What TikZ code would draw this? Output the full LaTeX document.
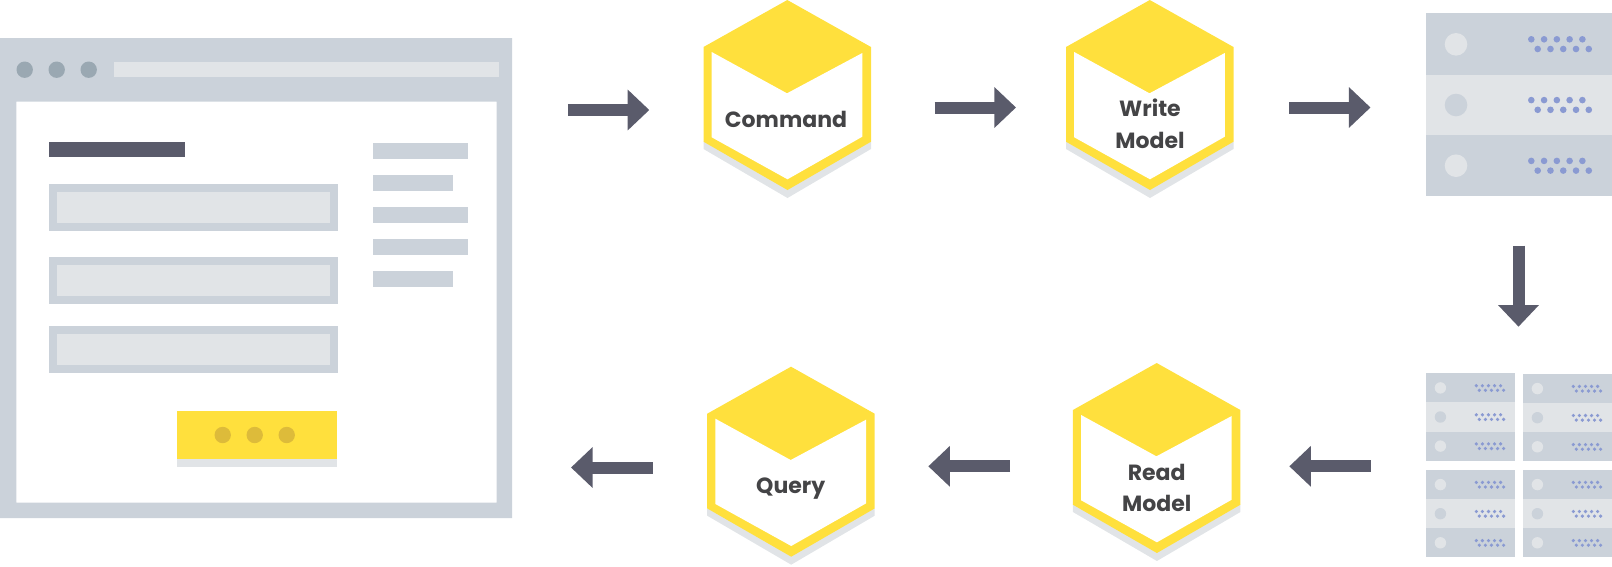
\documentclass[tikz,border=0pt]{standalone}
\usepackage{fontspec}
\setmainfont{Poppins}
\usetikzlibrary{arrows.meta}
\definecolor{slate}{HTML}{CBD2DA}
\definecolor{pale}{HTML}{E1E4E7}
\definecolor{ink}{HTML}{5A5B6B}
\definecolor{sun}{HTML}{FFE03D}
\definecolor{label}{HTML}{444446}
\definecolor{winDot}{HTML}{9AA8B2}
\definecolor{srvDot}{HTML}{8A9AD2}
\definecolor{btnDot}{HTML}{DDBB3A}
\tikzset{
  flow/.style={draw=ink,line width=12pt,-{Triangle[length=21.6pt,width=39.5pt]},line cap=butt},
  hexlabel/.style={font=\bfseries\fontsize{22}{31.6}\selectfont,text=label,align=center,inner sep=0pt,anchor=base},
}
% hexagon: dx dy
\newcommand{\hexa}[2]{%
  \begin{scope}[shift={(#1,#2)}]
    \fill[pale] (703.5,141.7) -- (703.5,149) -- (787.5,198) -- (871,149) -- (871,141.7) -- cycle;
    \fill[sun] (787.3,0) -- (871,47) -- (871,141.7) -- (787.5,190) -- (703.5,141.7) -- (703.5,47) -- cycle;
    \fill[white] (711.7,52) -- (787,93.3) -- (862.3,53) -- (862.3,136.7) -- (787.5,179.3) -- (711.7,137.3) -- cycle;
  \end{scope}}
\newcommand{\dotrows}[5]{%
  \foreach \i in {0,...,4} {
    \fill[srvDot] ({#1+\i*#5},#3) circle[radius=\dotR];
    \fill[srvDot] ({#2+\i*#5},#4) circle[radius=\dotR];
  }}
\newcommand{\srvSmall}[2]{% left top
  \begin{scope}[shift={(#1,#2)}]
    \fill[slate] (0,0) rectangle (88.8,29.1);
    \fill[pale] (0,29.1) rectangle (88.8,58.2);
    \fill[slate] (0,58.2) rectangle (88.8,87.3);
    \foreach \b/\c in {0/pale,1/slate,2/pale} {
      \fill[\c] (14.7,{14.6+\b*29.1}) circle[radius=5.7];
      \def\dotR{1.8}
      \dotrows{50.6}{53.6}{12.4+\b*29.1}{17+\b*29.1}{6.08}
    }
  \end{scope}}
\begin{document}
\begin{tikzpicture}[x=1pt,y=-1pt]
\useasboundingbox (0,0) rectangle (1612,566);
% browser window
\fill[slate,even odd rule] (0,38) rectangle (512,518) (16.3,101.7) rectangle (496.7,502.7);
\foreach \x in {24.7,56.7,88.7} \fill[winDot] (\x,69.7) circle[radius=8.2];
\fill[pale] (114,62) rectangle (498.6,77.3);
\fill[ink] (48.8,141.7) rectangle (184.8,157);
\foreach \y in {183.5,257,326} {
  \fill[slate] (48.8,\y) rectangle (338.4,\y+47);
  \fill[pale] (57,\y+8) rectangle (330.2,\y+39);
}
\foreach \y/\r in {143/468,175/453,207/468,239/468,271/453}
  \fill[slate] (373.3,\y) rectangle (\r,\y+15.5);
\fill[pale] (176.8,459) rectangle (336.8,467);
\fill[sun] (176.8,411.3) rectangle (336.8,459);
\foreach \x in {222.7,254.7,286.7} \fill[btnDot] (\x,435) circle[radius=8.2];
% hexagons
\hexa{0}{0}
\hexa{362.5}{0}
\hexa{3.7}{366.7}
\hexa{369.4}{363}
\node[hexlabel] (cmd) at (786,127.7) {Command};
\node[hexlabel] (wm) at (1150,148.3) {Write\\Model};
\node[hexlabel] (qry) at (790.7,493.3) {Query};
\node[hexlabel] (rm) at (1156.7,511.7) {Read\\Model};
% big server
\fill[slate] (1425.8,13.3) rectangle (1611.7,74.7);
\fill[pale] (1425.8,74.7) rectangle (1611.7,135.3);
\fill[slate] (1425.8,135.3) rectangle (1611.7,196);
\foreach \b/\c in {0/pale,1/slate,2/pale} {
  \fill[\c] (1456,{44.3+\b*60.7}) circle[radius=11.3];
  \def\dotR{3.3}
  \dotrows{1531.3}{1537.7}{39.3+\b*60.8}{49+\b*60.8}{12.77}
}
% small servers
\srvSmall{1425.7}{373.3}
\srvSmall{1522.7}{374}
\srvSmall{1425.7}{470}
\srvSmall{1522.7}{470}
% arrows
\coordinate (a1s) at (567.8,110); \coordinate (a1e) at (649.3,110);
\coordinate (a2s) at (934.5,107.5); \coordinate (a2e) at (1016,107.5);
\coordinate (a3s) at (1289,107.5); \coordinate (a3e) at (1370.5,107.5);
\coordinate (a4s) at (1518.5,245.7); \coordinate (a4e) at (1518.5,326.7);
\coordinate (a5s) at (1370.7,466.3); \coordinate (a5e) at (1289.3,466.3);
\coordinate (a6s) at (1010,466.3); \coordinate (a6e) at (928.3,466.3);
\coordinate (a7s) at (652.6,467.5); \coordinate (a7e) at (571,467.5);
\foreach \n in {1,...,7} \draw[flow] (a\n s) -- (a\n e);
\end{tikzpicture}
\end{document}
